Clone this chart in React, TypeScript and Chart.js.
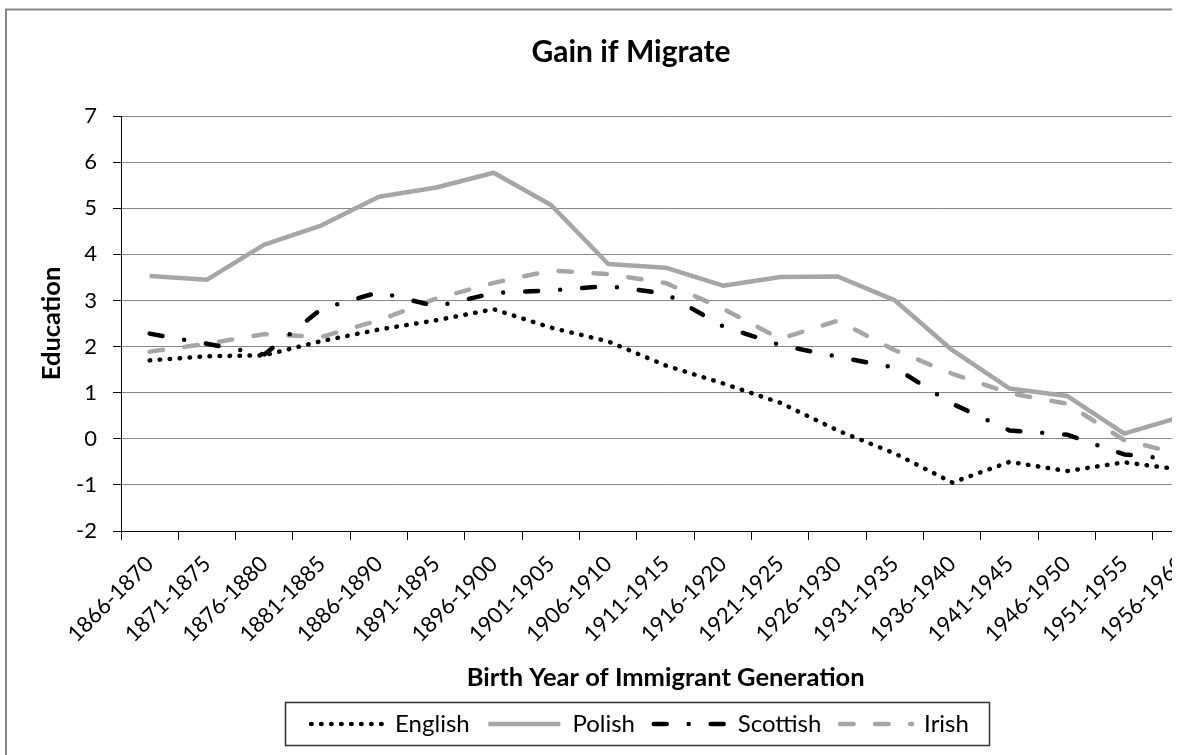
import React, { useEffect, useRef } from 'react';
import { Chart, registerables } from 'chart.js';

Chart.register(...registerables);

const categories = [
  '1866-1870', '1871-1875', '1876-1880', '1881-1885', '1886-1890', '1891-1895',
  '1896-1900', '1901-1905', '1906-1910', '1911-1915', '1916-1920', '1921-1925',
  '1926-1930', '1931-1935', '1936-1940', '1941-1945', '1946-1950', '1951-1955', '1956-1960',
];
const english = [1.70, 1.79, 1.81, 2.12, 2.37, 2.57, 2.81, 2.41, 2.11, 1.59, 1.20, 0.78, 0.18, -0.32, -0.95, -0.50, -0.70, -0.51, -0.67];
const polish = [3.53, 3.45, 4.21, 4.63, 5.25, 5.45, 5.77, 5.07, 3.79, 3.71, 3.32, 3.51, 3.52, 3.00, 1.92, 1.09, 0.93, 0.11, 0.48];
const scottish = [2.28, 2.06, 1.83, 2.82, 3.18, 2.87, 3.16, 3.22, 3.31, 3.15, 2.44, 2.03, 1.78, 1.54, 0.76, 0.18, 0.09, -0.34, -0.46];
const irish = [1.89, 2.06, 2.27, 2.21, 2.57, 3.04, 3.38, 3.65, 3.57, 3.38, 2.82, 2.17, 2.56, 1.92, 1.41, 0.99, 0.76, -0.03, -0.34];

const yMin = -2;
const yMax = 7;
const yStep = 1;

const chartTitle = 'Gain if Migrate';
const xTitle = 'Birth Year of Immigrant Generation';
const yTitle = 'Education';

const FONT = 'Lato, "Open Sans", sans-serif';
const W = 1262;
const H = 770;

export default function App() {
  const ref = useRef<HTMLCanvasElement>(null);

  useEffect(() => {
    const canvas = ref.current;
    if (!canvas) return;

    const framePlugin = {
      id: 'frame',
      beforeDraw(chart: any) {
        const ctx = chart.ctx;
        ctx.save();
        ctx.fillStyle = '#ffffff';
        ctx.fillRect(0, 0, W, H);
        ctx.strokeStyle = '#878787';
        ctx.lineWidth = 2;
        ctx.strokeRect(6, 9.5, 1250, 756);
        ctx.restore();
      },
      afterLayout(chart: any) {
        if (chart.legend) {
          chart.legend.left += 9;
          chart.legend.right += 9;
        }
      },
      afterDraw(chart: any) {
        const lg = chart.legend;
        if (!lg || !lg.legendHitBoxes || !lg.legendHitBoxes.length) return;
        const hb = lg.legendHitBoxes;
        const first = hb[0];
        const last = hb[hb.length - 1];
        const cy = first.top + first.height / 2;
        const ctx = chart.ctx;
        ctx.save();
        ctx.strokeStyle = '#303030';
        ctx.lineWidth = 1.5;
        const l = Math.round(first.left - 26) + 0.5;
        const r = Math.round(last.left + last.width + 20) + 0.5;
        const t = Math.round(cy - 22) + 0.5;
        const b = Math.round(cy + 21) + 0.5;
        ctx.strokeRect(l, t, r - l, b - t);
        ctx.restore();
      },
    };

    const chart = new Chart(canvas, {
      type: 'line',
      data: {
        labels: categories,
        datasets: [
          {
            label: 'English',
            data: english,
            borderColor: '#000000',
            backgroundColor: '#000000',
            borderWidth: 4.5,
            borderDash: [0.5, 9.5],
            borderCapStyle: 'round',
            borderJoinStyle: 'round',
            pointRadius: 0,
            tension: 0,
          },
          {
            label: 'Polish',
            data: polish,
            borderColor: '#a6a6a6',
            backgroundColor: '#a6a6a6',
            borderWidth: 4.5,
            borderCapStyle: 'butt',
            borderJoinStyle: 'round',
            pointRadius: 0,
            tension: 0,
          },
          {
            label: 'Scottish',
            data: scottish,
            borderColor: '#000000',
            backgroundColor: '#000000',
            borderWidth: 4.5,
            borderDash: [13, 22, 0, 22],
            borderCapStyle: 'round',
            borderJoinStyle: 'round',
            pointRadius: 0,
            tension: 0,
          },
          {
            label: 'Irish',
            data: irish,
            borderColor: '#a6a6a6',
            backgroundColor: '#a6a6a6',
            borderWidth: 4.5,
            borderDash: [13.5, 21.5],
            borderCapStyle: 'round',
            borderJoinStyle: 'round',
            pointRadius: 0,
            tension: 0,
          },
        ],
      },
      options: {
        responsive: false,
        maintainAspectRatio: false,
        animation: false,
        devicePixelRatio: 1,
        events: [],
        layout: { padding: { left: 8, right: 8, top: 10, bottom: 24 } },
        plugins: {
          title: {
            display: true,
            text: chartTitle,
            color: '#000000',
            font: { family: FONT, size: 30, weight: 'bold' },
            padding: { top: 24, bottom: 46 },
          },
          legend: {
            display: true,
            position: 'bottom',
            labels: {
              usePointStyle: true,
              pointStyle: 'line',
              pointStyleWidth: 72,
              padding: 18.7,
              color: '#000000',
              font: { family: FONT, size: 24 },
              generateLabels: (ch: any) =>
                ch.data.datasets.map((ds: any, i: number) => ({
                  text: ds.label,
                  datasetIndex: i,
                  hidden: false,
                  fillStyle: 'rgba(0,0,0,0)',
                  strokeStyle: ds.borderColor,
                  lineWidth: ds.borderWidth,
                  lineDash: ds.borderDash || [],
                  lineDashOffset: 0,
                  lineCap: ds.borderCapStyle,
                  lineJoin: 'round',
                  pointStyle: 'line',
                  fontColor: '#000000',
                })),
            },
          },
          tooltip: { enabled: false },
        },
        scales: {
          x: {
            type: 'category',
            offset: true,
            grid: {
              offset: true,
              drawOnChartArea: false,
              drawTicks: true,
              tickLength: 9,
              tickColor: '#000000',
              color: '#000000',
            },
            border: { display: true, color: '#000000', width: 1 },
            ticks: {
              autoSkip: false,
              minRotation: 45,
              maxRotation: 45,
              color: '#000000',
              font: { family: FONT, size: 22 },
              padding: 11,
            },
            title: {
              display: true,
              text: xTitle,
              color: '#000000',
              font: { family: FONT, size: 25.5, weight: 'bold' },
              padding: { top: 0, bottom: 0 },
            },
            afterFit(scale: any) {
              scale.height = 162.3;
            },
          },
          y: {
            type: 'linear',
            position: 'left',
            min: yMin,
            max: yMax,
            ticks: {
              stepSize: yStep,
              color: '#000000',
              font: { family: FONT, size: 22 },
              padding: 16,
            },
            grid: {
              color: '#868686',
              lineWidth: 1,
              tickColor: '#000000',
              tickLength: 8,
            },
            border: { display: true, color: '#000000', width: 1 },
            title: {
              display: true,
              text: yTitle,
              color: '#000000',
              font: { family: FONT, size: 25.5, weight: 'bold' },
              padding: { top: 28.2, bottom: 0 },
            },
            afterFit(scale: any) {
              scale.width = 113;
            },
          },
          yR: {
            type: 'linear',
            position: 'right',
            display: true,
            grid: { display: false, drawTicks: false },
            ticks: { display: false },
            border: { display: false },
            afterFit(scale: any) {
              scale.width = 43.7;
            },
          },
        },
      },
      plugins: [framePlugin],
    } as any);

    return () => {
      chart.destroy();
    };
  }, []);

  return (
    <div
      style={{
        position: 'fixed',
        left: 0,
        top: 0,
        width: 1172,
        height: 755,
        overflow: 'hidden',
        background: '#ffffff',
      }}
    >
      <canvas
        ref={ref}
        width={W}
        height={H}
        style={{ display: 'block', width: W, height: H }}
      />
    </div>
  );
}
